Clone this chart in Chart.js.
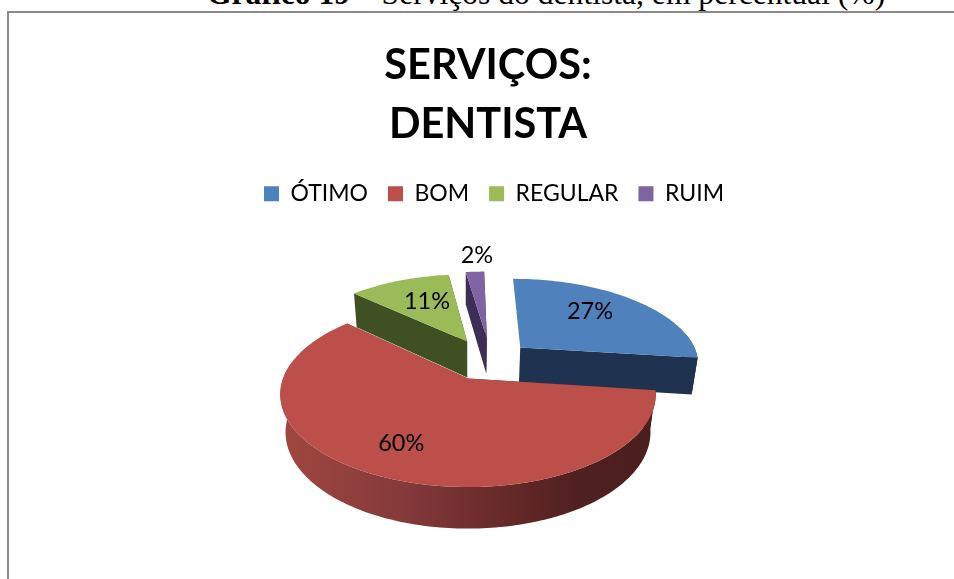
<!DOCTYPE html>
<html><head><meta charset="utf-8">
<style>
html,body{margin:0;padding:0;width:954px;height:579px;overflow:hidden;background:#fff}
#cap{position:absolute;left:207px;top:-24px;white-space:nowrap;font:31.6px "Liberation Serif",serif;color:#000;line-height:36px}
#frame{position:absolute;left:7px;top:11px;width:962px;height:590px;border:2px solid #8a8a8a;box-sizing:border-box;background:#fff}
#wrap{position:absolute;left:7px;top:20px;width:962px;height:559px}
</style>
<script src="https://cdn.jsdelivr.net/npm/chart.js@4"></script>
</head><body>
<div id="frame"></div>
<div id="cap"><b>Gráfico 19</b> – Serviços do dentista, em percentual (%)</div>
<div id="wrap"><canvas id="c" width="962" height="559"></canvas></div>
<script>
const categories = ["ÓTIMO","BOM","REGULAR","RUIM"];
const percentValues = [27,60,11,2];
const titleLines = ["SERVIÇOS:","DENTISTA"];
const faceColors = ["#4F81BD","#BC4F4A","#9BBB59","#8064A2"];
const wallColors = ["#1F3350","#7A3330","#3F5022","#3C2E55"];

const FONT = 'Lato, "Open Sans", sans-serif';
const R=185, A=90, D=38.7, K=0.17, M=0.028, SHIFT_X=-20;
const explode = [[0.30,-0.366],[0,0],[-0.005,-0.442],[0.11,-0.49]];
const labelRadius = [0.62,0.73,0.6,1.31];
const labelNudge = [[-3,-5],[-2,-2],[3,-2],[5,1]];
const paintOrder = [2,3,0,1];

function project(cx,cy,u,v,z){
  const w=1-K*v+M*z;
  return [cx+R*u/w, cy+(A*v+D*z)/w];
}
function rimPoints(a0,a1,ox,oy){
  const n=Math.max(2,Math.ceil((a1-a0)/0.02)), pts=[];
  for(let i=0;i<=n;i++){const a=a0+(a1-a0)*i/n; pts.push([ox+Math.cos(a),oy+Math.sin(a)]);}
  return pts;
}
const pie3d = {
  id:'pie3d',
  afterLayout(chart){ chart.legend.left+=6; chart.legend.right+=6; },
  beforeDatasetsDraw(chart){
    const ctx=chart.ctx, arcs=chart.getDatasetMeta(0).data;
    const trace=(pts)=>{ctx.beginPath();pts.forEach((p,i)=>i?ctx.lineTo(p[0],p[1]):ctx.moveTo(p[0],p[1]));ctx.closePath();};
    ctx.save();
    for(const i of paintOrder){
      const arc=arcs[i],cx=arc.x+SHIFT_X,cy=arc.y,[ox,oy]=explode[i];
      const rim=rimPoints(arc.startAngle,arc.endAngle,ox,oy);
      const T=p=>project(cx,cy,p[0],p[1],0),B=p=>project(cx,cy,p[0],p[1],1);
      const apex=[ox,oy];
      let wall=wallColors[i];
      if(i===1){
        const g=ctx.createLinearGradient(cx-185,0,cx+185,0);
        g.addColorStop(0,"#A0473F");g.addColorStop(0.35,"#82383A");g.addColorStop(0.6,"#662A28");g.addColorStop(0.8,"#4F2020");g.addColorStop(1,"#4A1F1E");
        wall=g;
      }
      ctx.fillStyle=wall;
      if(i!==0){trace([T(apex),T(rim[0]),B(rim[0]),B(apex)]);ctx.fill();}
      const last=rim[rim.length-1];
      trace([T(apex),T(last),B(last),B(apex)]);ctx.fill();
      const front=rim.filter(p=>p[1]-oy>-0.2);
      if(front.length>1){trace(front.map(T).concat(front.slice().reverse().map(B)));ctx.fill();}
      ctx.fillStyle=faceColors[i];
      trace([T(apex)].concat(rim.map(T)));ctx.fill();
    }
    ctx.fillStyle="#000";ctx.font='23.5px '+FONT;ctx.textAlign="center";ctx.textBaseline="middle";
    const total=percentValues.reduce((a,b)=>a+b,0);
    arcs.forEach((arc,i)=>{
      const mid=(arc.startAngle+arc.endAngle)/2,[ox,oy]=explode[i],r=labelRadius[i];
      const p=project(arc.x+SHIFT_X,arc.y,ox+r*Math.cos(mid),oy+r*Math.sin(mid),0);
      ctx.fillText(Math.round(percentValues[i]/total*100)+"%",p[0]+labelNudge[i][0],p[1]+labelNudge[i][1]);
    });
    ctx.restore();
    return false;
  }
};
new Chart(document.getElementById('c'),{
  type:'pie',
  data:{labels:categories,datasets:[{data:percentValues,backgroundColor:faceColors,borderWidth:0}]},
  plugins:[pie3d],
  options:{
    responsive:false,animation:false,
    layout:{padding:{bottom:37}},
    plugins:{
      tooltip:{enabled:false},
      title:{display:true,text:titleLines,color:"#000",font:{family:FONT,size:41.5,weight:'bold',lineHeight:1.4},padding:{top:17,bottom:9}},
      legend:{position:'top',labels:{boxWidth:15,boxHeight:15,padding:20,color:"#000",font:{family:FONT,size:23}}}
    }
  }
});
</script>
</body></html>
